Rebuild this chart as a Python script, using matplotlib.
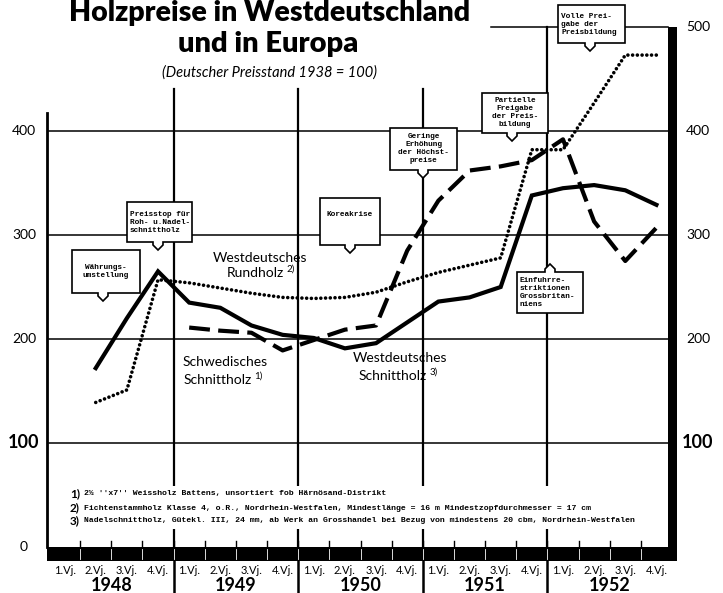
import numpy as np
import matplotlib
matplotlib.use("Agg")
import matplotlib.pyplot as plt
from matplotlib.patches import Polygon, Rectangle
from matplotlib.transforms import Affine2D

nan = np.nan
# ---------------- data ----------------
years = ["1948", "1949", "1950", "1951", "1952"]
quarter_labels = ["1.Vj.", "2.Vj.", "3.Vj.", "4.Vj."]
y_ticks = [0, 100, 200, 300, 400, 500]

# Westdeutsches Schnittholz 3) (solid)
schnittholz_west = [nan, 172, 220, 265, 235, 230, 213, 204, 201, 191,
                    196, 216, 236, 240, 250, 338, 345, 348, 343, 329]
# Westdeutsches Rundholz 2) (dotted)
rundholz_west = [nan, 139, 151, 257, 254, 249, 244, 240, 239, 240,
                 245, 255, 264, 271, 278, 382, 382, 427, 473, 473]
# Schwedisches Schnittholz 1) (dashed)
schnittholz_swe = [nan, nan, nan, nan, 211, 208, 206, 189, 199, 209,
                   213, 285, 333, 362, 366, 372, 392, 313, 275, 307]

W, H = 723, 593
fig = plt.figure(figsize=(W / 100, H / 100), dpi=100)
fig.patch.set_facecolor("white")
# pixel transform (origin top-left)
pt = Affine2D().scale(1 / W, -1 / H).translate(0, 1) + fig.transFigure

ax = fig.add_axes([49 / W, 46 / H, 623 / W, 520 / H])
ax.set_xlim(0, 20)
ax.set_ylim(0, 500)
ax.axis("off")

SANS = ["Lato", "DejaVu Sans"]
MONO = ["Liberation Mono", "DejaVu Sans Mono"]

xq = np.arange(20) + 0.5

# ---------------- grid ----------------
RIGHT = 19.87
for v in [100, 200, 300, 400]:
    ax.plot([0, RIGHT], [v, v], color="black", lw=1.1, zorder=1, clip_on=False)
ax.plot([14.2, RIGHT], [500, 500], color="black", lw=1.1, zorder=1, clip_on=False)
# vertical year lines
for xb, top in [(4, 440), (8, 440), (12, 440), (16, 500)]:
    ax.plot([xb, xb], [0, top], color="black", lw=1.6, zorder=1, clip_on=False)
# left axis
ax.plot([-0.06, -0.06], [0, 417], color="black", lw=2.0, zorder=2, clip_on=False)
# right thick bar
ax.add_patch(Rectangle((19.87, -13), 0.29, 513, facecolor="black",
                       edgecolor="none", zorder=2, clip_on=False))
# baseline band
ax.add_patch(Rectangle((-0.06, -13), 20.22, 13, facecolor="black",
                       edgecolor="none", zorder=2, clip_on=False))
for q in range(1, 20):
    ax.plot([q, q], [-12, -2], color="white", lw=0.6, zorder=3, clip_on=False)
    ax.plot([q, q], [0, 6], color="black", lw=1.0, zorder=2, clip_on=False)

# ---------------- series ----------------
ax.plot(xq, schnittholz_west, color="black", lw=3.0, solid_joinstyle="miter",
        zorder=3, clip_on=False)
ax.plot(xq, schnittholz_swe, color="black", lw=3.0, linestyle=(0, (5, 2)),
        zorder=3, clip_on=False)
ax.plot(xq, rundholz_west, color="black", lw=2.6, linestyle=(0, (0.01, 1.3)),
        dash_capstyle="round", zorder=3, clip_on=False)

# ---------------- callout boxes ----------------
def bubble(l, t, r, b, px, up=False, text="", ha="left", fs=5.6, ty=None):
    if not up:
        verts = [(l, t), (r, t), (r, b), (px + 5, b), (px + 5, b + 3),
                 (px, b + 8), (px - 5, b + 3), (px - 5, b), (l, b)]
    else:
        verts = [(l, t), (px - 5, t), (px - 5, t - 3), (px, t - 8),
                 (px + 5, t - 3), (px + 5, t), (r, t), (r, b), (l, b)]
    fig.add_artist(Polygon(verts, closed=True, transform=pt, facecolor="white",
                           edgecolor="black", lw=1.2, zorder=5))
    tx = l + 3 if ha == "left" else (l + r) / 2
    fig.text(tx, (t + b) / 2 if ty is None else ty, text, transform=pt, ha=ha,
             va="center", fontsize=fs, family=MONO, fontweight="bold",
             linespacing=1.2, zorder=6)

bubble(72, 250, 140, 293, 103, text="Währungs-\numstellung", ha="center")
bubble(127, 202, 192, 242, 158, text="Preisstop für\nRoh- u.Nadel-\nschnittholz")
bubble(320, 198, 380, 245, 350, text="Koreakrise", ha="center", ty=214)
bubble(390, 128, 457, 170, 423, text="Geringe\nErhöhung\nder Höchst-\npreise", ha="center")
bubble(482, 93, 548, 133, 512, text="Partielle\nFreigabe\nder Preis-\nbildung", ha="center")
bubble(558, 5, 625, 43, 590, text="Volle Prei-\ngabe der\nPreisbildung")
bubble(517, 272, 583, 313, 550, up=True,
       text="Einfuhrre-\nstriktionen\nGrossbritan-\nniens")

# ---------------- series labels ----------------
renderer = fig.canvas.get_renderer()

def lab(x, y, s, sup=None, fs=10):
    t = fig.text(x, y, s, transform=pt, ha="center", va="center", fontsize=fs,
                 family=SANS, zorder=6)
    if sup:
        bb = t.get_window_extent(renderer)
        xr = bb.x1 / W
        fig.text(xr + 2.5 / W, 1 - (y - 4) / H, sup, fontsize=7, family=SANS,
                 va="center", ha="left", zorder=6)
    return t

lab(260, 258, "Westdeutsches")
lab(255, 273, "Rundholz", sup="2)")
lab(225, 362, "Schwedisches")
lab(218, 380, "Schnittholz", sup="1)")
lab(400, 358, "Westdeutsches")
lab(393, 376, "Schnittholz", sup="3)")

# ---------------- title ----------------
fig.text(270, 21, "Holzpreise in Westdeutschland", transform=pt, ha="center",
         va="baseline", fontsize=20.5, fontweight="heavy", family=SANS)
fig.text(268, 52, "und in Europa", transform=pt, ha="center", va="baseline",
         fontsize=21, fontweight="heavy", family=SANS)
fig.text(270, 73, "(Deutscher Preisstand 1938 = 100)", transform=pt, ha="center",
         va="center", fontsize=10.5, style="italic", family=SANS)

# ---------------- footnotes ----------------
fig.add_artist(Rectangle((64, 486), 580, 43, transform=pt, facecolor="white",
                         edgecolor="none", zorder=4))
notes = ["2½ ''x7'' Weissholz Battens, unsortiert fob Härnösand-Distrikt",
         "Fichtenstammholz Klasse 4, o.R., Nordrhein-Westfalen, Mindestlänge = 16 m Mindestzopfdurchmesser = 17 cm",
         "Nadelschnittholz, Gütekl. III, 24 mm, ab Werk an Grosshandel bei Bezug von mindestens 20 cbm, Nordrhein-Westfalen"]
for i, (yy, s) in enumerate(zip([494, 508, 521], notes)):
    fig.text(70, yy, f"{i + 1})", transform=pt, va="center", fontsize=8.5,
             fontweight="bold", family=SANS, zorder=6)
    fig.text(84, yy, s, transform=pt, va="center", fontsize=5.9,
             fontweight="bold", family=MONO, zorder=6)

# ---------------- axis labels ----------------
for v in y_ticks:
    yv = ax.transData.transform((0, v))[1]
    ypx = H - yv
    big = v == 100
    fs = 13 if big else 10
    if v <= 400:
        fig.text(24, ypx, str(v), transform=pt, ha="center", va="center",
                 fontsize=fs, fontweight="bold" if big else "normal", family=SANS)
    if v >= 100:
        fig.text(698, ypx, str(v), transform=pt, ha="center", va="center",
                 fontsize=fs, fontweight="bold" if big else "normal", family=SANS)

for yi, yr in enumerate(years):
    for qi, ql in enumerate(quarter_labels):
        x = yi * 4 + qi + 0.5
        ax.text(x, -23, ql, ha="center", va="center", fontsize=8,
                family=SANS, clip_on=False)
    ax.text(yi * 4 + 2, -37, yr, ha="center", va="center", fontsize=13,
            fontweight="bold", family=SANS, clip_on=False)
    if yi > 0:
        ax.plot([yi * 4, yi * 4], [-13, -45], color="black", lw=1.8,
                clip_on=False)

fig.savefig("out.png", dpi=100)
